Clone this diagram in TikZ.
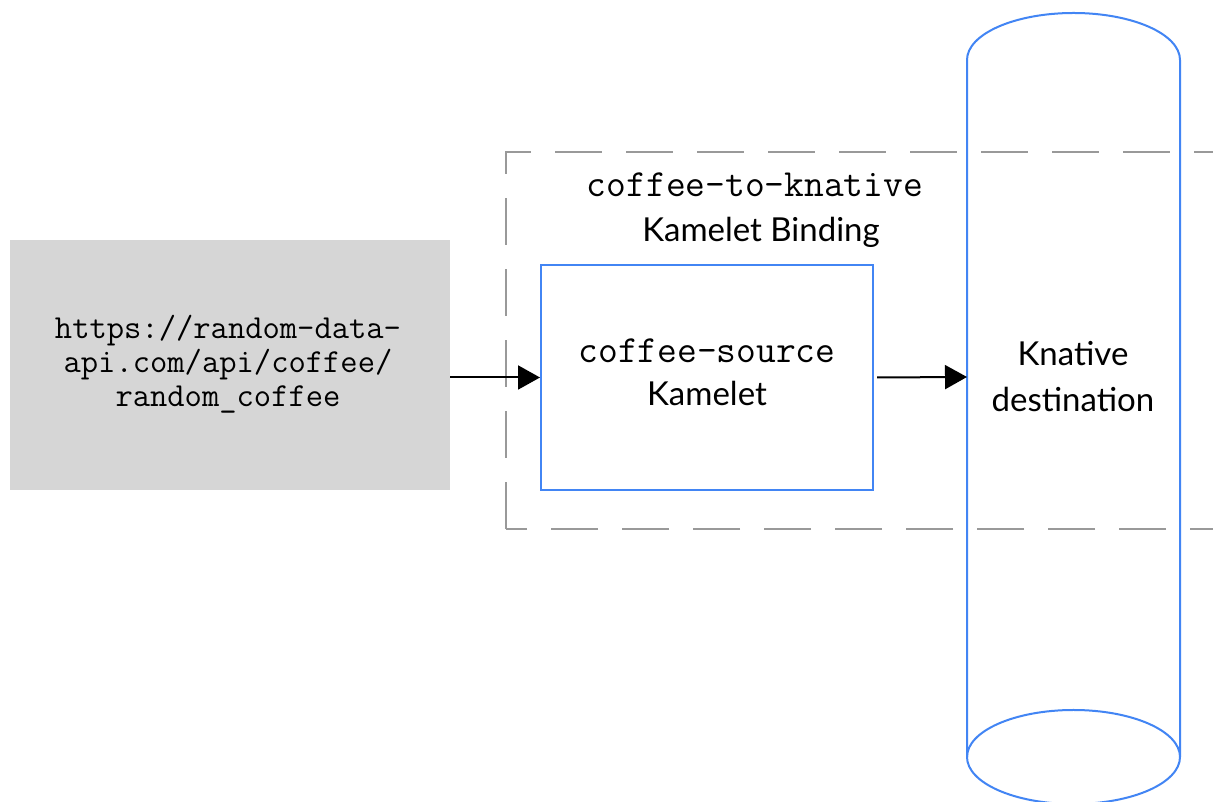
\documentclass[tikz,border=0pt]{standalone}
\usepackage{fontspec}
\setmainfont{Lato}
\usetikzlibrary{arrows.meta}
\definecolor{boxblue}{RGB}{66,133,244}
\definecolor{boxgray}{RGB}{214,214,214}
\definecolor{dashgray}{RGB}{153,153,153}
\tikzset{
  srcbox/.style={fill=boxgray, draw=none, minimum width=440pt, minimum height=250pt, inner sep=0pt, align=center, font=\fontsize{33.6}{34}\selectfont\ttfamily},
  kambox/.style={draw=boxblue, line width=2pt, fill=white, minimum width=332pt, minimum height=225pt, inner sep=0pt, align=center},
  bindbox/.style={draw=dashgray, line width=2pt, dash pattern=on 47pt off 24pt},
  cyl/.style={draw=boxblue, line width=2pt},
  flow/.style={draw=black, line width=2pt, -{Triangle[length=22pt,width=24pt]}},
  monotxt/.style={font=\fontsize{38.4}{40}\selectfont\ttfamily},
  sanstxt/.style={font=\fontsize{33}{46}\selectfont},
}
\begin{document}
\begin{tikzpicture}[x=1pt,y=1pt]
\useasboundingbox (0,0) rectangle (1213,802);
\clip (0,0) rectangle (1213,802);
\fill[white] (0,0) rectangle (1213,802);
% binding dashed box
\draw[bindbox] (506,273) -- (506,650) -- (1240,650) -- (1240,273) -- cycle;
% source
\node[srcbox] (src) at (230,437) {};
\node[srcbox, fill=none, minimum width=0pt, minimum height=0pt] (srctxt) at (228,438) {https://random-data-\\api.com/api/coffee/\\random\_coffee};
% kamelet
\node[kambox] (kam) at (707,424.5) {};
\node[monotxt, anchor=base] (kamname) at (707,439) {coffee-source};
\node[sanstxt, anchor=base] (kamlbl) at (707,396) {Kamelet};
% binding labels
\node[monotxt, anchor=base] (bindname) at (755,605) {coffee-to-knative};
\node[sanstxt, anchor=base] (bindlbl) at (761,560) {Kamelet Binding};
% cylinder
\coordinate (cylL) at (967,425);
\draw[cyl] (967,45) -- (967,742) arc[start angle=180, end angle=0, x radius=106.5, y radius=47] -- (1180,45);
\draw[cyl] (1073.5,45) ellipse [x radius=106.5, y radius=47];
\node[sanstxt, align=center] (dest) at (1073,425) {Knative\\destination};
% arrows
\draw[flow] (src.east |- kam.west) -- (kam.west);
\draw[flow] (kam.east) ++(3pt,0) coordinate (kamout) (kamout) -- (cylL);
\end{tikzpicture}
\end{document}
